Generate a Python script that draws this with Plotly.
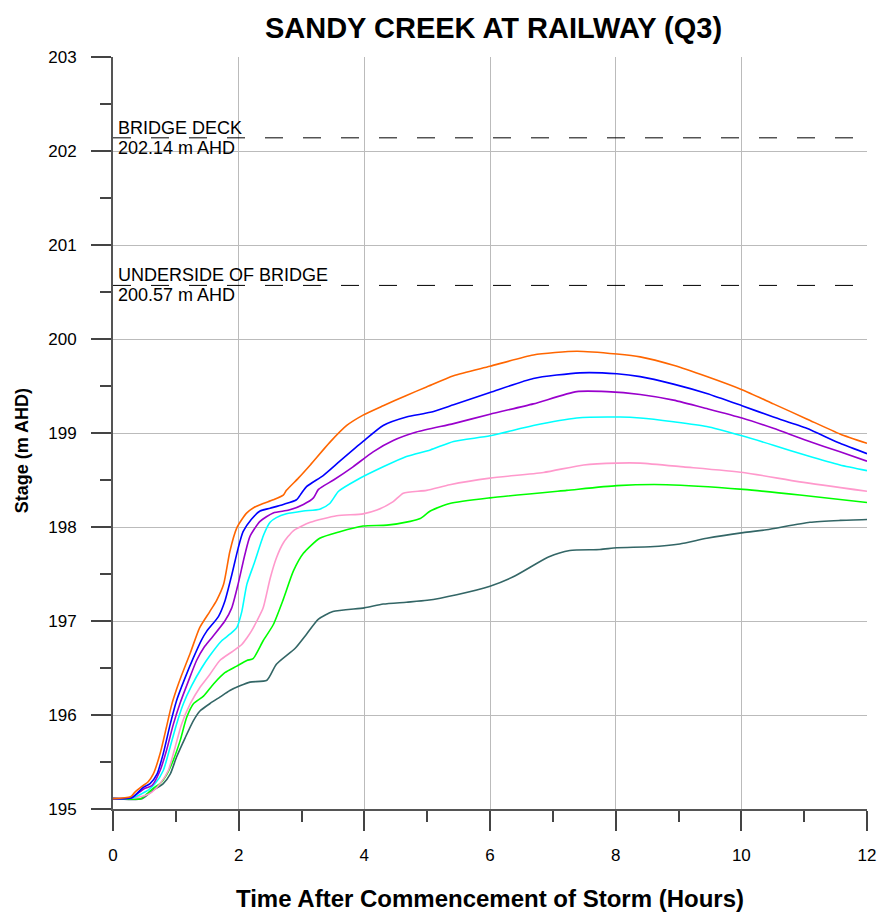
import plotly.graph_objects as go

# Stage hydrographs, Sandy Creek at Railway (Q3)
orange_t = [0, 0.28, 0.35, 0.46, 0.56, 0.64, 0.75, 0.85, 0.93, 1.01, 1.09, 1.23, 1.38, 1.54, 1.65,
            1.76, 1.86, 1.97, 2.05, 2.13, 2.25, 2.39, 2.55, 2.71, 2.76, 2.95, 3.14, 3.45, 3.72, 3.98,
            4.3, 4.67, 4.99, 5.42, 6.0, 6.69, 7.38, 8.02, 8.39, 8.92, 9.45, 10.01, 10.51, 11.04, 11.57, 12.0]
orange_v = [195.11, 195.13, 195.18, 195.24, 195.29, 195.37, 195.59, 195.87, 196.1, 196.27, 196.42, 196.66,
            196.93, 197.1, 197.22, 197.39, 197.74, 197.99, 198.08, 198.15, 198.21, 198.25, 198.29, 198.34,
            198.39, 198.52, 198.66, 198.9, 199.08, 199.19, 199.29, 199.4, 199.49, 199.61, 199.71, 199.83,
            199.87, 199.84, 199.81, 199.72, 199.6, 199.46, 199.31, 199.15, 198.99, 198.89]

blue_t = [0, 0.3, 0.48, 0.59, 0.7, 0.8, 0.91, 1.01, 1.15, 1.28, 1.41, 1.49, 1.68, 1.78, 1.89, 1.99, 2.07,
          2.2, 2.34, 2.5, 2.71, 2.92, 3.0, 3.08, 3.35, 3.61, 3.98, 4.3, 4.67, 5.05, 5.42, 6.0, 6.69, 7.43,
          8.02, 8.39, 8.92, 9.45, 10.01, 10.51, 11.04, 11.57, 12.0]
blue_v = [195.11, 195.12, 195.23, 195.27, 195.37, 195.59, 195.9, 196.15, 196.4, 196.61, 196.8, 196.89,
          197.05, 197.21, 197.49, 197.77, 197.95, 198.08, 198.17, 198.2, 198.24, 198.29, 198.36, 198.43,
          198.55, 198.7, 198.91, 199.08, 199.17, 199.22, 199.3, 199.43, 199.58, 199.64, 199.63, 199.6,
          199.52, 199.42, 199.29, 199.17, 199.05, 198.89, 198.78]

purple_t = [0, 0.3, 0.4, 0.51, 0.62, 0.75, 0.85, 0.96, 1.07, 1.2, 1.33, 1.45, 1.57, 1.78, 1.89, 1.99, 2.1,
            2.18, 2.34, 2.55, 2.8, 3.03, 3.19, 3.27, 3.51, 3.82, 4.14, 4.46, 4.83, 5.42, 6.0, 6.69, 7.38,
            7.86, 8.39, 8.92, 9.45, 10.01, 10.51, 11.04, 11.57, 12.0]
purple_v = [195.11, 195.12, 195.17, 195.22, 195.25, 195.41, 195.62, 195.9, 196.13, 196.36, 196.58, 196.72,
            196.82, 197.0, 197.14, 197.39, 197.71, 197.9, 198.06, 198.15, 198.18, 198.24, 198.31, 198.4,
            198.5, 198.64, 198.8, 198.92, 199.01, 199.1, 199.2, 199.31, 199.44, 199.44, 199.41, 199.35,
            199.26, 199.16, 199.05, 198.92, 198.8, 198.7]

cyan_t = [0, 0.32, 0.45, 0.56, 0.67, 0.8, 0.91, 1.01, 1.12, 1.25, 1.41, 1.54, 1.73, 1.86, 1.97, 2.05, 2.13,
          2.25, 2.4, 2.5, 2.6, 2.76, 3.03, 3.29, 3.45, 3.59, 3.88, 4.3, 4.67, 5.05, 5.42, 6.0, 6.69, 7.38,
          8.07, 8.39, 8.92, 9.45, 10.01, 10.51, 11.04, 11.57, 12.0]
cyan_v = [195.11, 195.12, 195.16, 195.2, 195.27, 195.41, 195.66, 195.9, 196.12, 196.31, 196.5, 196.63,
          196.79, 196.86, 196.93, 197.1, 197.39, 197.62, 197.92, 198.05, 198.1, 198.14, 198.17, 198.19,
          198.25, 198.38, 198.5, 198.64, 198.75, 198.82, 198.91, 198.97, 199.08, 199.16, 199.17, 199.16,
          199.12, 199.07, 198.97, 198.87, 198.76, 198.66, 198.6]

pink_t = [0, 0.35, 0.5, 0.62, 0.75, 0.88, 0.99, 1.09, 1.23, 1.38, 1.54, 1.7, 1.91, 2.05, 2.13, 2.2, 2.29,
          2.39, 2.5, 2.6, 2.71, 2.87, 3.14, 3.56, 3.98, 4.2, 4.46, 4.62, 4.99, 5.36, 6.0, 6.85, 7.49, 8.02,
          8.39, 9.08, 10.03, 10.93, 12.0]
pink_v = [195.11, 195.12, 195.14, 195.18, 195.27, 195.41, 195.66, 195.9, 196.12, 196.29, 196.43, 196.58,
          196.68, 196.75, 196.82, 196.89, 197.0, 197.14, 197.45, 197.67, 197.83, 197.96, 198.05, 198.12,
          198.14, 198.18, 198.27, 198.36, 198.39, 198.45, 198.52, 198.58, 198.66, 198.68, 198.68, 198.64,
          198.58, 198.48, 198.38]

green_t = [0, 0.44, 0.54, 0.64, 0.75, 0.85, 0.96, 1.07, 1.17, 1.28, 1.44, 1.6, 1.78, 1.97, 2.13, 2.23,
           2.39, 2.55, 2.71, 2.87, 3.03, 3.29, 3.61, 3.98, 4.36, 4.73, 4.89, 5.05, 5.36, 6.0, 7.22, 8.02,
           8.81, 10.03, 10.93, 12.0]
green_v = [195.11, 195.11, 195.16, 195.22, 195.27, 195.36, 195.52, 195.73, 195.97, 196.12, 196.2, 196.33,
           196.45, 196.52, 196.58, 196.6, 196.79, 196.96, 197.23, 197.53, 197.72, 197.88, 197.95, 198.01,
           198.02, 198.06, 198.09, 198.17, 198.25, 198.31, 198.39, 198.44, 198.45, 198.4, 198.34, 198.26]

slate_t = [0, 0.46, 0.64, 0.8, 0.91, 1.01, 1.15, 1.28, 1.38, 1.54, 1.7, 1.86, 2.02, 2.18, 2.45, 2.6, 2.9,
           3.08, 3.27, 3.5, 4.0, 4.3, 4.67, 5.0, 5.47, 6.0, 6.37, 6.93, 7.27, 7.75, 8.02, 8.55, 9.02, 9.45,
           10.03, 10.4, 11.09, 11.57, 12.0]
slate_v = [195.11, 195.11, 195.2, 195.27, 195.37, 195.55, 195.76, 195.94, 196.04, 196.12, 196.19, 196.26,
           196.31, 196.35, 196.37, 196.54, 196.71, 196.86, 197.02, 197.1, 197.14, 197.18, 197.2, 197.22,
           197.28, 197.37, 197.47, 197.68, 197.75, 197.76, 197.78, 197.79, 197.82, 197.88, 197.94, 197.97,
           198.05, 198.07, 198.08]

# Structure levels (m AHD)
level_names = ["BRIDGE DECK", "UNDERSIDE OF BRIDGE"]
level_values = [202.14, 200.57]
time_span = [0, 12]

FONT = "Arial, Liberation Sans, sans-serif"

series = [
    (slate_t, slate_v, "#336666"),
    (green_t, green_v, "#00FF00"),
    (pink_t, pink_v, "#FF99CC"),
    (cyan_t, cyan_v, "#00FFFF"),
    (purple_t, purple_v, "#9900CC"),
    (blue_t, blue_v, "#0000FF"),
    (orange_t, orange_v, "#FF6600"),
]

fig = go.Figure()

for name, lvl in zip(level_names, level_values):
    fig.add_trace(go.Scatter(
        x=time_span, y=[lvl, lvl], mode="lines",
        line=dict(color="black", width=1, dash="18px,20px"),
        hoverinfo="skip", showlegend=False,
    ))
    fig.add_annotation(x=0, y=lvl, xref="x", yref="y", text=name, showarrow=False,
                       xanchor="left", yanchor="bottom", xshift=4, yshift=-1, borderpad=0,
                       font=dict(family=FONT, size=18, color="black"))
    fig.add_annotation(x=0, y=lvl, xref="x", yref="y", text=f"{lvl:.2f} m AHD", showarrow=False,
                       xanchor="left", yanchor="top", xshift=4, yshift=1, borderpad=0,
                       font=dict(family=FONT, size=18, color="black"))

for t, v, c in series:
    fig.add_trace(go.Scatter(
        x=t, y=v, mode="lines",
        line=dict(color=c, width=1.6, shape="spline", smoothing=0.6),
        showlegend=False,
    ))

axis_common = dict(
    showline=True, linecolor="#555555", linewidth=2,
    ticks="outside", ticklen=20, tickwidth=1.5, tickcolor="#444444",
    showgrid=True, gridcolor="#BBBBBB", gridwidth=1,
    zeroline=False,
    tickfont=dict(family=FONT, size=17, color="black"),
    mirror=False,
)

fig.update_xaxes(
    range=[0, 12], dtick=2, tick0=0,
    minor=dict(dtick=1, ticks="outside", ticklen=11, tickcolor="#444444", showgrid=False),
    title=dict(text="<b>Time After Commencement of Storm (Hours)</b>",
               font=dict(family=FONT, size=24, color="black"), standoff=26),
    ticklabelstandoff=10,
    **axis_common,
)
fig.update_yaxes(
    range=[195, 203], dtick=1, tick0=195,
    minor=dict(dtick=0.5, ticks="outside", ticklen=11, tickcolor="#444444", showgrid=False),
    ticklabelstandoff=11,
    **axis_common,
)

# Vertical axis title, placed in paper coordinates left of the plot area
fig.add_annotation(x=-0.1207, y=0.477, xref="paper", yref="paper", text="<b>Stage (m AHD)</b>",
                   textangle=-90, showarrow=False, xanchor="center", yanchor="middle",
                   font=dict(family=FONT, size=18, color="black"))

fig.update_layout(
    width=890, height=920,
    margin=dict(l=113, r=23, t=57, b=108),
    paper_bgcolor="white", plot_bgcolor="white",
    title=dict(text="<b>SANDY CREEK AT RAILWAY (Q3)</b>", x=0.5545, xanchor="center",
               y=0.97, yanchor="middle", font=dict(family=FONT, size=29, color="black")),
)

fig.write_html("out.html")
